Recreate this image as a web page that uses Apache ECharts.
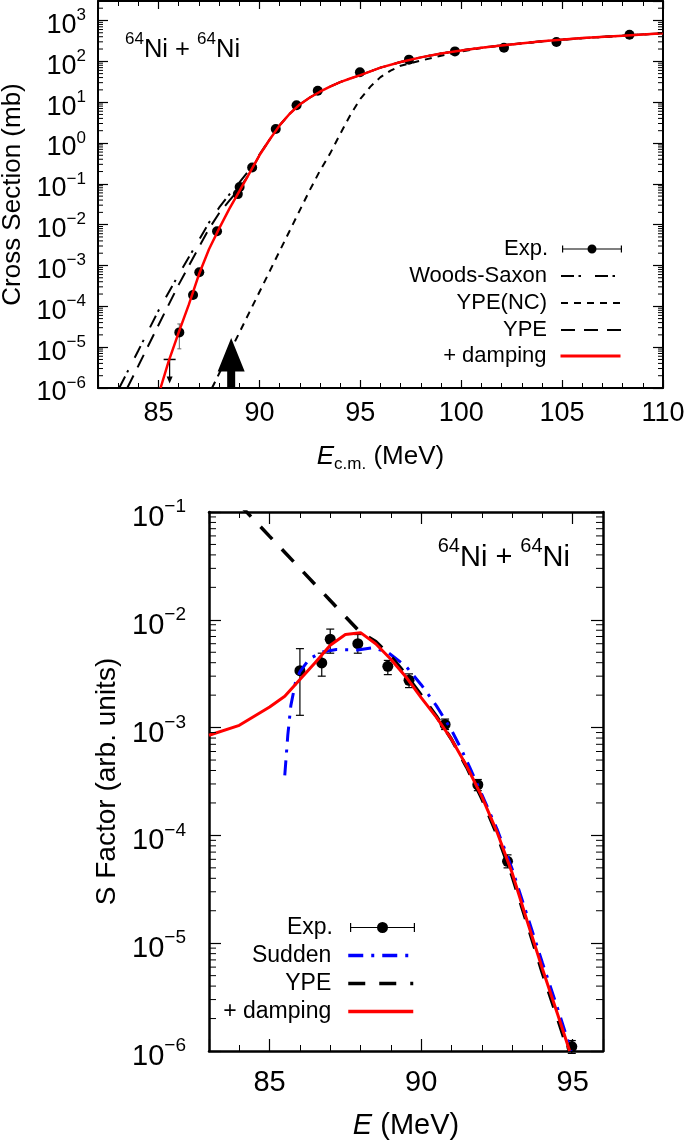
<!DOCTYPE html>
<html lang="en">
<head>
<meta charset="UTF-8">
<title>64Ni + 64Ni</title>
<style>
  html, body { margin: 0; padding: 0; background: #fff; }
  #chart { width: 685px; height: 1141px; }
</style>
</head>
<body>
<div id="chart"></div>
<script src="https://cdn.jsdelivr.net/npm/echarts@6/dist/echarts.min.js"></script>
<script>
// ---- top panel: fusion cross section (mb) vs E_cm ----
const topExpE  = [86.03, 86.71, 87.02, 87.90, 88.93, 89.02, 89.64, 90.81, 91.84, 92.89, 94.98, 97.41, 99.69, 102.12, 104.72, 108.34];
const topExpS  = [2.3e-5, 1.9e-4, 6.8e-4, 6.9e-3, 0.056, 0.084, 0.25, 2.2, 8.4, 19, 54, 110, 175, 215, 296, 447];
const topExpLo = [9.1e-6, 1.7e-4, 6.2e-4, 6.4e-3, 0.052, 0.078, 0.235, 2.05, 7.9, 18, 51, 104, 166, 205, 282, 426];
const topExpHi = [3.7e-5, 2.1e-4, 7.4e-4, 7.4e-3, 0.060, 0.090, 0.265, 2.35, 8.9, 20, 57, 116, 184, 225, 310, 468];
const topLimitE = [85.55];
const topLimitS = [5e-6];
const topBarrierE = [88.6];

const topWsE = [83.05, 84.0, 85.0, 86.0, 87.0, 87.5, 88.0, 88.5, 89.0, 89.5, 90.0, 90.5, 91.0, 91.5, 92.0, 92.5, 93.0, 93.5, 94.0, 94.5, 95.0, 96.0, 97.0, 98.0, 99.0, 100.0, 101.0, 102.0, 104.0, 106.0, 108.0, 110.0];
const topWsS = [1.0e-6, 8.3e-6, 7.9e-5, 6.0e-4, 4.2e-3, 0.0112, 0.026, 0.054, 0.107, 0.22, 0.52, 1.2, 2.7, 5.2, 8.8, 13, 18, 24, 31, 38, 46, 70, 96, 125, 155, 185, 215, 245, 310, 370, 425, 490];

const topNcE = [87.65, 88.5, 89.5, 90.5, 91.5, 92.5, 93.0, 93.5, 94.0, 94.5, 95.0, 95.5, 96.0, 96.5, 97.0, 98.0, 99.0, 100.0, 101.0, 102.0, 104.0, 106.0, 108.0, 110.0];
const topNcS = [1.0e-6, 7.1e-6, 7.1e-5, 7.1e-4, 7.1e-3, 0.071, 0.21, 0.55, 1.65, 4.8, 12, 24, 41, 59, 78, 104, 137, 174, 212, 243, 308, 368, 423, 488];

const topYpeE = [83.45, 84.0, 85.0, 86.0, 87.0, 87.5, 88.0, 88.5, 89.0, 89.5, 90.0, 90.5, 91.0, 91.5, 92.0, 92.5, 93.0, 93.5, 94.0, 94.5, 95.0, 96.0, 97.0, 98.0, 99.0, 100.0, 101.0, 102.0, 104.0, 106.0, 108.0, 110.0];
const topYpeS = [1.0e-6, 3.5e-6, 3.5e-5, 3.4e-4, 2.8e-3, 7.9e-3, 0.019, 0.038, 0.076, 0.174, 0.5, 1.2, 2.7, 5.2, 8.8, 13, 18, 24, 31, 38, 46, 70, 96, 125, 155, 185, 215, 245, 310, 370, 425, 490];

const topDampE = [85.1, 85.5, 86.0, 86.5, 87.0, 87.5, 88.0, 88.5, 89.0, 89.5, 90.0, 90.5, 91.0, 91.5, 92.0, 92.5, 93.0, 93.5, 94.0, 94.5, 95.0, 96.0, 97.0, 98.0, 99.0, 100.0, 101.0, 102.0, 104.0, 106.0, 108.0, 110.0];
const topDampS = [1.0e-6, 4.5e-6, 2.3e-5, 1.1e-4, 6.0e-4, 2.5e-3, 8.0e-3, 0.024, 0.065, 0.18, 0.5, 1.2, 2.7, 5.2, 8.8, 13, 18, 24, 31, 38, 46, 70, 96, 125, 155, 185, 215, 245, 310, 370, 425, 490];

// ---- bottom panel: S factor (arb. units) vs E ----
const botExpE  = [86.0, 86.72, 87.0, 87.91, 88.9, 89.6, 90.79, 91.87, 92.85, 94.97];
const botExpS  = [3.37e-3, 3.98e-3, 6.6e-3, 6.0e-3, 3.7e-3, 2.75e-3, 1.07e-3, 2.95e-4, 5.75e-5, 1.1e-6];
const botExpLo = [1.3e-3, 3.0e-3, 4.9e-3, 4.9e-3, 3.1e-3, 2.35e-3, 9.6e-4, 2.6e-4, 5.0e-5, 0.95e-6];
const botExpHi = [5.4e-3, 4.9e-3, 8.2e-3, 7.3e-3, 4.2e-3, 3.15e-3, 1.2e-3, 3.3e-4, 6.6e-5, 1.25e-6];

const botSuddenE = [85.5, 85.6, 85.7, 85.85, 86.0, 86.3, 86.7, 87.2, 87.9, 88.4, 88.9, 89.5, 90.0, 90.5, 91.0, 91.3, 91.6, 92.0, 92.5, 93.0, 93.5, 94.0, 94.5, 94.95];
const botSuddenS = [3.6e-4, 8.5e-4, 1.6e-3, 2.6e-3, 3.3e-3, 4.3e-3, 5.0e-3, 5.3e-3, 5.25e-3, 5.5e-3, 5.0e-3, 3.7e-3, 2.5e-3, 1.6e-3, 9.5e-4, 6.5e-4, 4.3e-4, 2.4e-4, 1.15e-4, 4.9e-5, 1.8e-5, 6.6e-6, 2.5e-6, 1.0e-6];

const botYpeE = [84.0, 85.0, 86.0, 87.0, 88.0, 88.5, 89.0, 89.5, 90.0, 90.5, 91.0, 91.5, 92.0, 92.5, 93.0, 93.5, 94.0, 94.5, 94.85];
const botYpeS = [0.118, 0.0594, 0.030, 0.0151, 7.6e-3, 6.3e-3, 4.6e-3, 3.1e-3, 2.0e-3, 1.28e-3, 7.8e-4, 4.3e-4, 2.2e-4, 1.02e-4, 4.2e-5, 1.5e-5, 5.3e-6, 2.0e-6, 1.0e-6];

const botDampE = [83.0, 84.0, 85.0, 85.5, 86.0, 86.5, 87.0, 87.5, 88.0, 88.5, 89.0, 89.5, 90.0, 90.5, 91.0, 91.5, 92.0, 92.5, 93.0, 93.5, 94.0, 94.5, 94.9];
const botDampS = [8.5e-4, 1.05e-3, 1.55e-3, 1.95e-3, 2.8e-3, 4.0e-3, 5.8e-3, 7.3e-3, 7.6e-3, 6.0e-3, 4.3e-3, 2.95e-3, 1.9e-3, 1.25e-3, 7.8e-4, 4.4e-4, 2.3e-4, 1.08e-4, 4.5e-5, 1.6e-5, 5.8e-6, 2.2e-6, 1.0e-6];

const FONT = "'Liberation Sans', Arial, Helvetica, sans-serif";

function zip(xs, ys) {
  return xs.map((x, i) => [x, ys[i]]);
}

// 10^n labels for the log axes
function powLabel(v) {
  const e = Math.log10(v);
  const r = Math.round(e);
  if (Math.abs(e - r) > 1e-6) return '';
  return '{b|10}{s|' + (r < 0 ? '\u2212' + (-r) : r) + '}';
}
function eLabel(v) {
  return Math.abs(v % 5) < 1e-9 ? String(v) : '';
}
function supRich(big, small, raise) {
  return {
    b: { fontSize: big, lineHeight: big, padding: [raise, 0, 0, 0], verticalAlign: 'top', fontFamily: FONT, fontWeight: 'normal', color: '#000' },
    s: { fontSize: small, lineHeight: small, verticalAlign: 'top', fontFamily: FONT, fontWeight: 'normal', color: '#000' }
  };
}

// minor ticks at 2..9 of every decade (gnuplot style)
function logMinor(lo, hi) {
  const out = [];
  for (let d = lo; d <= hi; d *= 10) {
    for (let k = 2; k <= 9; k++) out.push(+(k * d).toPrecision(3));
  }
  return out;
}

function minorRender(xl, xr, len) {
  return function (params, api) {
    const v = api.value(1);
    const a = api.coord([xl, v]);
    const b = api.coord([xr, v]);
    return { type: 'group', children: [
      { type: 'line', shape: { x1: a[0], y1: a[1], x2: a[0] + len, y2: a[1] }, style: { stroke: '#000', lineWidth: 1 } },
      { type: 'line', shape: { x1: b[0], y1: b[1], x2: b[0] - len, y2: b[1] }, style: { stroke: '#000', lineWidth: 1 } }
    ] };
  };
}

function errRender(cap, color, width) {
  return function (params, api) {
    const x = api.value(0);
    const lo = api.coord([x, api.value(1)]);
    const hi = api.coord([x, api.value(2)]);
    return { type: 'group', children: [
      { type: 'line', shape: { x1: lo[0], y1: lo[1], x2: hi[0], y2: hi[1] }, style: { stroke: color, lineWidth: width } },
      { type: 'line', shape: { x1: lo[0] - cap, y1: lo[1], x2: lo[0] + cap, y2: lo[1] }, style: { stroke: color, lineWidth: width } },
      { type: 'line', shape: { x1: hi[0] - cap, y1: hi[1], x2: hi[0] + cap, y2: hi[1] }, style: { stroke: color, lineWidth: width } }
    ] };
  };
}

function expIcon(w, h) {
  const c = h / 2, r = h / 2, m = w / 2;
  return 'path://M0 ' + (c - 0.6) + 'H' + w + 'V' + (c + 0.6) + 'H0Z' +
    'M0 1H1.2V' + (h - 1) + 'H0Z' +
    'M' + (w - 1.2) + ' 1H' + w + 'V' + (h - 1) + 'H' + (w - 1.2) + 'Z' +
    'M' + (m - r) + ' ' + c + 'A' + r + ' ' + r + ' 0 1 1 ' + (m + r) + ' ' + c +
    'A' + r + ' ' + r + ' 0 1 1 ' + (m - r) + ' ' + c + 'Z';
}

function legendItem(name, right, cy, w, h, fs, gap, extra) {
  return Object.assign({
    data: [name], orient: 'vertical', align: 'right', right: right, top: cy - 11,
    padding: 0, itemGap: 0, itemWidth: w, itemHeight: h, selectedMode: false,
    formatter: n => n.trim(),
    textStyle: { fontSize: fs, fontFamily: FONT, color: '#000', padding: [0, gap, 0, 0] },
    itemStyle: { opacity: 0 }
  }, extra || {});
}

function xAxisCfg(grid, min, max, pos, lw, tl, ml, fs, margin) {
  return {
    type: 'value', gridIndex: grid, position: pos, min: min, max: max, minInterval: 5, maxInterval: 5,
    axisLine: { onZero: false, lineStyle: { color: '#000', width: lw } },
    axisTick: { inside: true, length: tl, lineStyle: { color: '#000', width: 1.2 } },
    minorTick: { show: true, splitNumber: 5, length: ml, lineStyle: { color: '#000', width: 1 } },
    axisLabel: { show: pos === 'bottom', formatter: eLabel, margin: margin, fontSize: fs, fontFamily: FONT, color: '#000' },
    splitLine: { show: false }
  };
}
function yAxisCfg(grid, min, max, pos, lw, tl, rich, margin, split) {
  return {
    type: 'log', logBase: 10, gridIndex: grid, position: pos, min: min, max: max, splitNumber: split,
    axisLine: { onZero: false, lineStyle: { color: '#000', width: lw } },
    axisTick: { inside: true, length: tl, lineStyle: { color: '#000', width: 1.2 } },
    axisLabel: { show: pos === 'left', formatter: powLabel, margin: margin, rich: rich, showMaxLabel: false },
    splitLine: { show: false }
  };
}

const chart = echarts.init(document.getElementById('chart'), null, { renderer: 'canvas' });

const xAxes = [
  Object.assign(xAxisCfg(0, 82, 110, 'bottom', 2, 8, 5, 27, 12), {
    name: '{i|E}{s|c.m.}{n| (MeV)}', nameLocation: 'middle', nameGap: 56,
    nameTextStyle: { rich: {
      i: { fontSize: 26, lineHeight: 26, verticalAlign: 'top', fontStyle: 'italic', fontFamily: FONT, color: '#000' },
      s: { fontSize: 17, lineHeight: 17, padding: [12, 0, 0, 0], verticalAlign: 'top', fontFamily: FONT, color: '#000' },
      n: { fontSize: 26, lineHeight: 26, verticalAlign: 'top', fontFamily: FONT, color: '#000' }
    } }
  }),
  xAxisCfg(0, 82, 110, 'top', 2, 8, 5, 27, 12),
  Object.assign(xAxisCfg(1, 83, 96, 'bottom', 2.5, 12, 6, 29, 17), {
    name: '{i|E}{n| (MeV)}', nameLocation: 'middle', nameGap: 60,
    nameTextStyle: { rich: {
      i: { fontSize: 29, lineHeight: 29, verticalAlign: 'top', fontStyle: 'italic', fontFamily: FONT, color: '#000' },
      n: { fontSize: 29, lineHeight: 29, verticalAlign: 'top', fontFamily: FONT, color: '#000' }
    } }
  }),
  xAxisCfg(1, 83, 96, 'top', 2.5, 12, 6, 29, 17)
];

const yAxes = [
  Object.assign(yAxisCfg(0, 1e-6, 3000, 'left', 2, 10, supRich(27, 17, 5), 12, 10), {
    name: 'Cross Section (mb)', nameLocation: 'middle', nameRotate: 90, nameGap: 72,
    nameTextStyle: { fontSize: 26, fontFamily: FONT, color: '#000' }
  }),
  yAxisCfg(0, 1e-6, 3000, 'right', 2, 10, null, 12, 10),
  Object.assign(yAxisCfg(1, 1e-6, 0.1, 'left', 2.5, 12, supRich(29, 19, 6), 23, 5), {
    name: 'S Factor (arb. units)', nameLocation: 'middle', nameRotate: 90, nameGap: 81,
    nameTextStyle: { fontSize: 28, fontFamily: FONT, color: '#000' }
  }),
  yAxisCfg(1, 1e-6, 0.1, 'right', 2.5, 12, null, 23, 5)
];

function lineSeries(name, xi, yi, xs, ys, color, width, dash, z) {
  return {
    name: name, type: 'line', xAxisIndex: xi, yAxisIndex: yi, data: zip(xs, ys),
    symbol: 'none', showSymbol: false, silent: true, z: z,
    lineStyle: { color: color, width: width, type: dash }, itemStyle: { color: color }
  };
}

const series = [
  // top panel
  { type: 'custom', xAxisIndex: 0, yAxisIndex: 0, silent: true, z: 2,
    data: topExpE.map((e, i) => [e, topExpLo[i], topExpHi[i]]), encode: { x: 0, y: [1, 2] },
    renderItem: errRender(2, '#666', 1) },
  { name: 'Exp.', type: 'scatter', xAxisIndex: 0, yAxisIndex: 0, silent: true, z: 3,
    data: zip(topExpE, topExpS), symbol: 'circle', symbolSize: 10, itemStyle: { color: '#000', opacity: 1 } },
  { type: 'custom', xAxisIndex: 0, yAxisIndex: 0, silent: true, z: 3,
    data: zip(topLimitE, topLimitS), encode: { x: 0, y: 1 },
    renderItem: function (params, api) {
      const p = api.coord([api.value(0), api.value(1)]);
      return { type: 'group', children: [
        { type: 'line', shape: { x1: p[0] - 6, y1: p[1], x2: p[0] + 6, y2: p[1] }, style: { stroke: '#000', lineWidth: 1.5 } },
        { type: 'line', shape: { x1: p[0], y1: p[1], x2: p[0], y2: p[1] + 20 }, style: { stroke: '#000', lineWidth: 1.2 } },
        { type: 'polygon', shape: { points: [[p[0] - 3, p[1] + 17], [p[0] + 3, p[1] + 17], [p[0], p[1] + 24]] }, style: { fill: '#000' } }
      ] };
    } },
  lineSeries('Woods-Saxon', 0, 0, topWsE, topWsS, '#000', 2, [13, 4.5, 2.5, 14], 4),
  lineSeries('YPE(NC)', 0, 0, topNcE, topNcS, '#000', 2, [7, 6], 4),
  lineSeries('YPE', 0, 0, topYpeE, topYpeS, '#000', 2, [14, 9], 4),
  lineSeries('+ damping', 0, 0, topDampE, topDampS, '#ff0000', 2.5, 'solid', 5),
  { type: 'custom', xAxisIndex: 0, yAxisIndex: 0, silent: true, z: 6, clip: false,
    data: topBarrierE.map(e => [e, 1e-6]), encode: { x: 0, y: 1 },
    renderItem: function (params, api) {
      const p = api.coord([api.value(0), api.value(1)]);
      const x = p[0], y = p[1];
      return { type: 'polygon', shape: { points: [
        [x - 4, y], [x - 4, y - 16.5], [x - 13.5, y - 16.5], [x, y - 50],
        [x + 13.5, y - 16.5], [x + 4, y - 16.5], [x + 4, y]
      ] }, style: { fill: '#000' } };
    } },
  { type: 'custom', xAxisIndex: 0, yAxisIndex: 0, silent: true, z: 6,
    data: logMinor(1e-6, 1e3).filter(v => v < 3000).map(v => [82, v]), encode: { x: 0, y: 1 },
    renderItem: minorRender(82, 110, 5) },

  // bottom panel
  { type: 'custom', xAxisIndex: 2, yAxisIndex: 2, silent: true, z: 2,
    data: botExpE.map((e, i) => [e, botExpLo[i], botExpHi[i]]), encode: { x: 0, y: [1, 2] },
    renderItem: errRender(4, '#000', 1.2) },
  { name: 'Exp. ', type: 'scatter', xAxisIndex: 2, yAxisIndex: 2, silent: true, z: 3,
    data: zip(botExpE, botExpS), symbol: 'circle', symbolSize: 11, itemStyle: { color: '#000', opacity: 1 } },
  lineSeries('Sudden', 2, 2, botSuddenE, botSuddenS, '#0000ff', 3, [15, 8, 3, 8], 4),
  lineSeries('YPE ', 2, 2, botYpeE, botYpeS, '#000', 3.5, [17, 14], 4),
  lineSeries('+ damping ', 2, 2, botDampE, botDampS, '#ff0000', 3, 'solid', 5),
  { type: 'custom', xAxisIndex: 2, yAxisIndex: 2, silent: true, z: 6,
    data: logMinor(1e-6, 1e-2).map(v => [83, v]), encode: { x: 0, y: 1 },
    renderItem: minorRender(83, 96, 7) }
];

const legends = [
  legendItem('Exp.', 63, 249, 60, 9, 22, 9, { icon: expIcon(60, 9), itemStyle: { color: '#000', opacity: 1 } }),
  legendItem('Woods-Saxon', 63, 276, 60, 14, 22, 9, { lineStyle: { width: 2 } }),
  legendItem('YPE(NC)', 63, 303, 60, 14, 22, 9, { lineStyle: { width: 2 } }),
  legendItem('YPE', 63, 330, 60, 14, 22, 9, { lineStyle: { width: 2 } }),
  legendItem('+ damping', 63, 356, 60, 14, 22, 9, { lineStyle: { width: 3 } }),
  legendItem('Exp. ', 270, 927, 65, 11, 23, 12, { icon: expIcon(65, 11), itemStyle: { color: '#000', opacity: 1 } }),
  legendItem('Sudden', 270, 955, 65, 14, 23, 12, { lineStyle: { width: 3.5 } }),
  legendItem('YPE ', 270, 983, 65, 14, 23, 12, { lineStyle: { width: 3.5 } }),
  legendItem('+ damping ', 270, 1011, 65, 14, 23, 12, { lineStyle: { width: 3.5 } })
];

chart.setOption({
  animation: false,
  backgroundColor: '#fff',
  title: [
    { text: '{s|64}{b|Ni + }{s|64}{b|Ni}', left: 125, top: 31, padding: 0,
      textStyle: { fontWeight: 'normal', rich: supRich(25.5, 17, 6) } },
    { text: '{s|64}{b|Ni + }{s|64}{b|Ni}', right: 115, top: 536, padding: 0,
      textStyle: { fontWeight: 'normal', rich: supRich(29, 20, 7) } }
  ],
  grid: [
    { left: 98, right: 22, top: 1, height: 387, outerBoundsMode: 'none' },
    { left: 209, right: 82, top: 512, height: 539, outerBoundsMode: 'none' }
  ],
  legend: legends,
  xAxis: xAxes,
  yAxis: yAxes,
  series: series
});
</script>
</body>
</html>
